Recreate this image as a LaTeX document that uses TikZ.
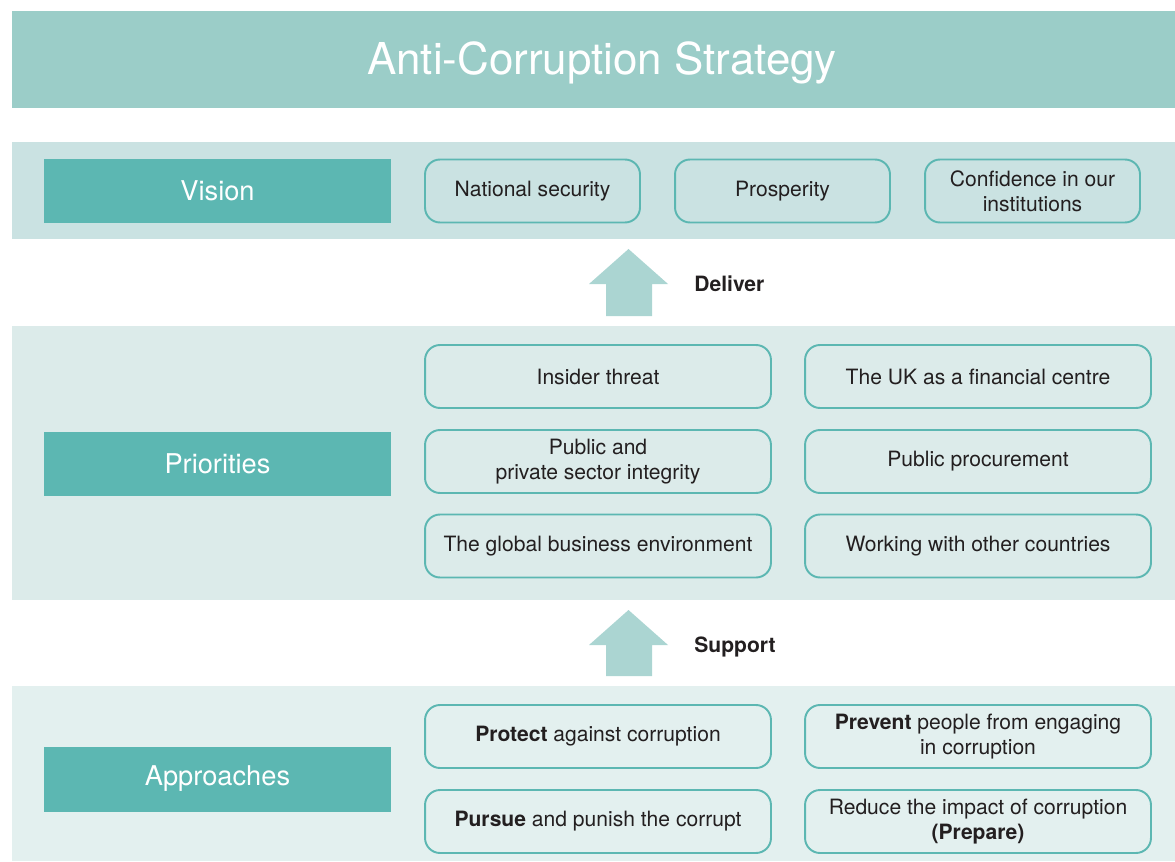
\documentclass[tikz,border=0pt]{standalone}
\usepackage{fontspec}
\setmainfont{TeX Gyre Heros}
\usetikzlibrary{calc}
\definecolor{titleteal}{HTML}{9BCDC8}
\definecolor{labelteal}{HTML}{5CB7B2}
\definecolor{visionband}{HTML}{CAE2E2}
\definecolor{priorband}{HTML}{DCEBEA}
\definecolor{approachband}{HTML}{E3F0EF}
\definecolor{arrowteal}{HTML}{ABD5D2}
\definecolor{textgrey}{HTML}{231F20}

\begin{document}
\begin{tikzpicture}[x=0.02cm,y=-0.02cm,
    headbox/.style={rectangle,fill=labelteal,text=white,minimum width=6.94cm,minimum height=1.3cm,font=\fontsize{15.5}{18}\selectfont},
    itembox/.style={rectangle,rounded corners=0.3cm,draw=labelteal,line width=1.1pt,text=textgrey,align=center,minimum height=1.26cm,font=\fontsize{12}{14.2}\selectfont},
    widebox/.style={itembox,minimum width=6.92cm},
    smallbox/.style={itembox,minimum width=4.3cm},
    verb/.style={anchor=west,inner sep=0pt,text=textgrey,font=\fontsize{12}{14}\selectfont\bfseries}]
\useasboundingbox (0,0) rectangle (1175,861);

% bands
\fill[titleteal] (12,11) rectangle (1175,108);
\fill[visionband] (12,142) rectangle (1175,239);
\fill[priorband] (12,326) rectangle (1175,600);
\fill[approachband] (12,686) rectangle (1175,861);

\node[text=white,font=\fontsize{25}{30}\selectfont] (title) at (602,63) {Anti-Corruption Strategy};

% vision
\node[headbox] (vision) at (217.5,191) {Vision};
\node[smallbox] (v1) at (532.5,191) {National security};
\node[smallbox] (v2) at (782.5,191) {Prosperity};
\node[smallbox] (v3) at (1032.5,191) {Confidence in our\\institutions};

% deliver
\fill[arrowteal] (589,284) -- (628.5,249) -- (668,284) -- (652,284) -- (652,316) -- (606,316) -- (606,284) -- cycle;
\node[verb] (deliver) at (694,284) {Deliver};

% priorities
\node[headbox] (priorities) at (217.5,464) {Priorities};
\node[widebox] (p1) at (598,376.5) {Insider threat};
\node[widebox] (p2) at (978,376.5) {The UK as a financial centre};
\node[widebox] (p3) at (598,461.5) {Public and\\private sector integrity};
\node[widebox] (p4) at (978,461.5) {Public procurement};
\node[widebox] (p5) at (598,546) {The global business environment};
\node[widebox] (p6) at (978,546) {Working with other countries};

% support
\fill[arrowteal] (589,645) -- (628.5,610) -- (668,645) -- (652,645) -- (652,676) -- (606,676) -- (606,645) -- cycle;
\node[verb] (support) at (694,647) {Support};

% approaches
\node[headbox] (approaches) at (217.5,779) {Approaches};
\node[widebox] (a1) at (598,736.5) {\textbf{Protect} against corruption};
\node[widebox] (a2) at (978,736.5) {\textbf{Prevent} people from engaging\\in corruption};
\node[widebox] (a3) at (598,821.5) {\textbf{Pursue} and punish the corrupt};
\node[widebox] (a4) at (978,821.5) {Reduce the impact of corruption\\\textbf{(Prepare)}};
\end{tikzpicture}
\end{document}
